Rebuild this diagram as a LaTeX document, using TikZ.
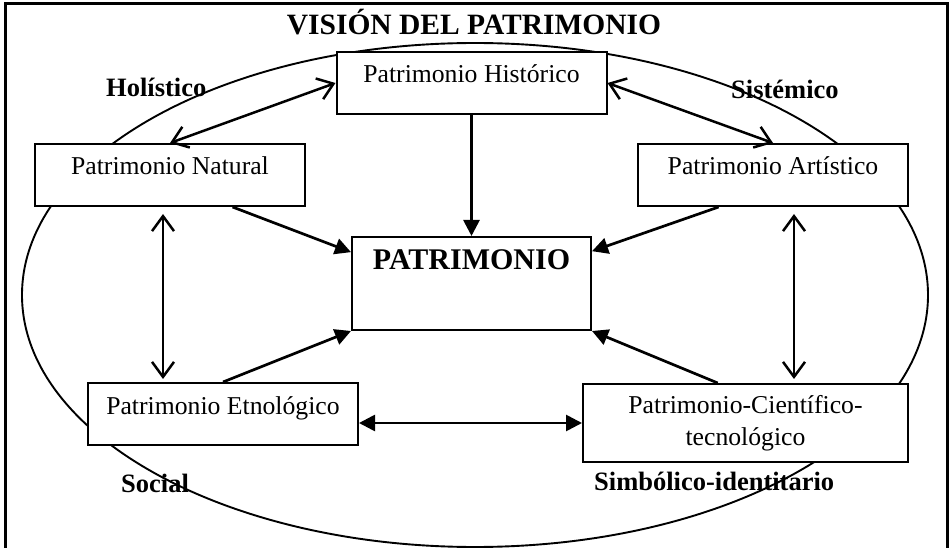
\documentclass[tikz,border=0pt]{standalone}
\usepackage{fontspec}
\setmainfont{Liberation Serif}
\usetikzlibrary{arrows.meta,positioning,calc}

\begin{document}
\begin{tikzpicture}[x=1pt,y=-1pt,%
        caja/.style={draw, fill=white, line width=2pt, inner sep=0pt,
          minimum width=270pt, font=\fontsize{25.7}{32}\selectfont},
        unalinea/.style={text height=31pt, text depth=31pt, anchor=base},
        etiq/.style={font=\fontsize{26.5}{30}\selectfont\bfseries, inner sep=0pt, anchor=base west},
        flecha/.style={line width=2.7pt, -{Triangle[length=16pt,width=16pt]}},
        doble/.style={line width=2.5pt, {Straight Barb[length=15pt,width=22pt]}-{Straight Barb[length=15pt,width=22pt]}},
        dobleplena/.style={line width=2.7pt, {Triangle[length=16pt,width=16pt]}-{Triangle[length=16pt,width=16pt]}}]

        \clip (0,0) rectangle (951,548);
        %% marco y elipse
        \draw[line width=3pt] (5,560) -- (5,4) -- (947,4) -- (947,560);
        \draw[line width=1.9pt] (475,295) ellipse [x radius=453, y radius=252];

        \node [font=\fontsize{29.5}{32}\selectfont\bfseries, inner sep=0pt, anchor=base] (titulo) at (474,35) {VISIÓN DEL PATRIMONIO};

        %% cajas
        \node [caja, unalinea] (hist) at (471.5,83) {Patrimonio Histórico};
        \node [caja, unalinea] (nat) at (170,175) {Patrimonio Natural};
        \node [caja, unalinea] (art) at (773,175) {Patrimonio Artístico};
        \node [caja, unalinea] (etn) at (223,414) {Patrimonio Etnológico};
        \node [caja, minimum width=325pt, minimum height=78pt, align=center] (cie) at (745.5,423) {Patrimonio-Científico-\\tecnológico};
        \node [caja, minimum width=239pt, text height=33pt, text depth=60pt, anchor=base,
          font=\fontsize{30}{32}\selectfont\bfseries] (pat) at (471.5,270) {PATRIMONIO};

        %% flechas hacia el centro
        \draw[flecha] (hist.south) -- (pat.north);
        \draw[flecha] ($(nat.south west)!0.73!(nat.south east)$) -- ($(pat.north west)!0.17!(pat.south west)$);
        \draw[flecha] ($(art.south west)!0.3!(art.south east)$) -- ($(pat.north east)!0.16!(pat.south east)$);
        \draw[flecha] (etn.north) -- (pat.south west);
        \draw[flecha] ($(cie.north west)!0.415!(cie.north east)$) -- (pat.south east);

        %% relaciones entre patrimonios
        \draw[doble] (nat.north) -- (hist.west);
        \draw[doble] (hist.east) -- (art.north);
        \coordinate (v_nat) at ($(nat.south)+(-7,7)$);
        \draw[doble, shorten >=3pt] (v_nat) -- (v_nat |- etn.north);
        \coordinate (v_art) at ($(art.south)+(21,7)$);
        \draw[doble, shorten >=4pt] (v_art) -- (v_art |- cie.north);
        \draw[dobleplena] (etn.east |- cie.west) -- (cie.west);

        %% etiquetas
        \foreach \nombre/\pos/\texto in {hol/{106,97}/Holístico, sis/{731,99}/Sistémico,
            soc/{121,492}/Social, sim/{594,490}/Simbólico-identitario} {
          \node [etiq, name=lab_\nombre] at (\pos) {\texto};
        }

\end{tikzpicture}
\end{document}
